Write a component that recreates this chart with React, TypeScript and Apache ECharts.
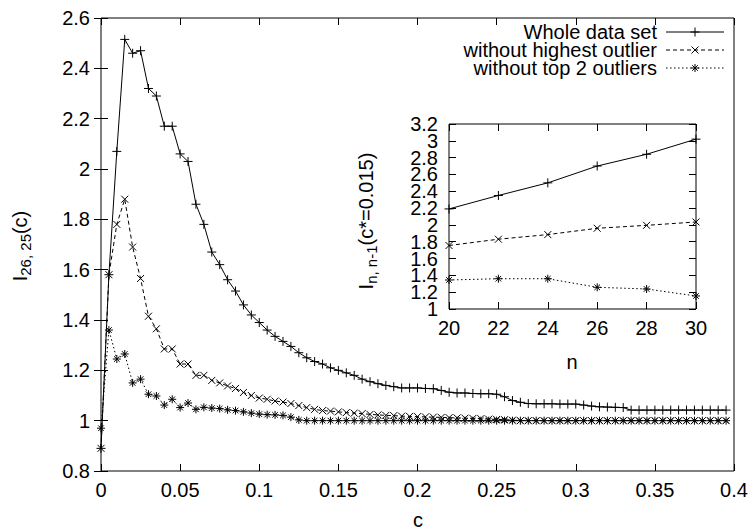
import React, { useEffect, useRef } from 'react';
import * as echarts from 'echarts';

const FONT = 'Liberation Sans, Arial, Helvetica, sans-serif';
const FS = 20;

// c values (main x axis)
const C = [
  0, 0.005, 0.01, 0.015, 0.02, 0.025, 0.03, 0.035, 0.04, 0.045,
  0.05, 0.055, 0.06, 0.065, 0.07, 0.075, 0.08, 0.085, 0.09, 0.095,
  0.1, 0.105, 0.11, 0.115, 0.12, 0.125, 0.13, 0.135, 0.14, 0.145,
  0.15, 0.155, 0.16, 0.165, 0.17, 0.175, 0.18, 0.185, 0.19, 0.195,
  0.2, 0.205, 0.21, 0.215, 0.22, 0.225, 0.23, 0.235, 0.24, 0.245,
  0.25, 0.255, 0.26, 0.265, 0.27, 0.275, 0.28, 0.285, 0.29, 0.295,
  0.3, 0.305, 0.31, 0.315, 0.32, 0.325, 0.33, 0.335, 0.34, 0.345,
  0.35, 0.355, 0.36, 0.365, 0.37, 0.375, 0.38, 0.385, 0.39, 0.395,
];

const WHOLE = [
  0.89, 1.58, 2.07, 2.515, 2.46, 2.47, 2.32, 2.29, 2.17, 2.17,
  2.06, 2.03, 1.86, 1.78, 1.67, 1.62, 1.56, 1.515, 1.46, 1.42,
  1.39, 1.36, 1.335, 1.315, 1.295, 1.27, 1.25, 1.235, 1.225, 1.21,
  1.2, 1.19, 1.18, 1.165, 1.155, 1.147, 1.14, 1.135, 1.13, 1.13,
  1.13, 1.128, 1.127, 1.12, 1.113, 1.11, 1.11, 1.108, 1.107, 1.107,
  1.105, 1.095, 1.08, 1.073, 1.068, 1.067, 1.067, 1.067, 1.066, 1.066,
  1.066, 1.062, 1.058, 1.055, 1.054, 1.053, 1.052, 1.042, 1.042, 1.042,
  1.042, 1.042, 1.042, 1.042, 1.042, 1.042, 1.042, 1.042, 1.042, 1.042,
];

const NO_HIGHEST = [
  0.89, 1.58, 1.78, 1.88, 1.69, 1.565, 1.415, 1.365, 1.285, 1.285,
  1.225, 1.225, 1.18, 1.18, 1.16, 1.15, 1.138, 1.128, 1.112, 1.1,
  1.09, 1.085, 1.078, 1.074, 1.068, 1.06, 1.052, 1.045, 1.04, 1.038,
  1.035, 1.032, 1.03, 1.028, 1.025, 1.023, 1.021, 1.02, 1.018, 1.017,
  1.016, 1.015, 1.014, 1.013, 1.012, 1.011, 1.01, 1.009, 1.008, 1.006,
  1.005, 1.004, 1.002, 1.0, 1.0, 1.0, 1.0, 1.0, 1.0, 1.0,
  1.0, 1.0, 1.0, 1.0, 1.0, 1.0, 1.0, 1.0, 1.0, 1.0,
  1.0, 1.0, 1.0, 1.0, 1.0, 1.0, 1.0, 1.0, 1.0, 1.0,
];

const NO_TOP2 = [
  0.97, 1.36, 1.245, 1.265, 1.15, 1.165, 1.105, 1.098, 1.062, 1.085,
  1.052, 1.07, 1.045, 1.053, 1.05, 1.048, 1.043, 1.04, 1.035, 1.03,
  1.026, 1.024, 1.023, 1.021, 1.014, 1.003, 1.0, 1.0, 1.0, 1.0,
  1.0, 1.0, 1.0, 1.0, 1.0, 1.0, 1.0, 1.0, 1.0, 1.0,
  1.0, 1.0, 1.0, 1.0, 1.0, 1.0, 1.0, 1.0, 1.0, 1.0,
  1.0, 1.0, 1.0, 1.0, 1.0, 1.0, 1.0, 1.0, 1.0, 1.0,
  1.0, 1.0, 1.0, 1.0, 1.0, 1.0, 1.0, 1.0, 1.0, 1.0,
  1.0, 1.0, 1.0, 1.0, 1.0, 1.0, 1.0, 1.0, 1.0, 1.0,
];

// inset
const N = [20, 22, 24, 26, 28, 30];
const INSET_WHOLE = [2.19, 2.35, 2.5, 2.7, 2.84, 3.02];
const INSET_NO_HIGHEST = [1.755, 1.83, 1.885, 1.96, 1.995, 2.035];
const INSET_NO_TOP2 = [1.345, 1.36, 1.36, 1.258, 1.238, 1.155];

// inset y tick labels, split into two alternating groups so none gets hidden
const INSET_Y_LABELS_A = ['1', '1.4', '1.8', '2.2', '2.6', '3'];
const INSET_Y_LABELS_B = ['1.2', '1.6', '2', '2.4', '2.8', '3.2'];

const NAMES = ['Whole data set', 'without highest outlier', 'without top 2 outliers'];

const PLUS = 'path://M0,5L10,5M5,0L5,10';
const CROSS = 'path://M0,0L10,10M0,10L10,0';
const STAR = 'path://M0,5L10,5M5,0L5,10M1.5,1.5L8.5,8.5M1.5,8.5L8.5,1.5';

const zip = (xs: number[], ys: number[]) => xs.map((x, i) => [x, ys[i]]);

const STYLES = [
  { symbol: PLUS, size: 9, dash: 'solid' as any, gdash: null as any, kind: 'plus' },
  { symbol: CROSS, size: 7, dash: [4, 3] as any, gdash: [4, 3] as any, kind: 'cross' },
  { symbol: STAR, size: 8, dash: [1.5, 2.5] as any, gdash: [1.5, 2.5] as any, kind: 'star' },
];

function mkSeries(name: string, data: number[][], idx: number, xi: number, yi: number) {
  const st = STYLES[idx];
  return {
    name,
    type: 'line',
    xAxisIndex: xi,
    yAxisIndex: yi,
    data,
    symbol: st.symbol,
    symbolSize: st.size,
    showSymbol: true,
    showAllSymbol: true,
    lineStyle: { color: '#000', width: 1, type: st.dash },
    itemStyle: { color: '#000', borderColor: '#000', borderWidth: 1 },
    emphasis: { disabled: true },
    silent: true,
    z: 3,
  };
}

const TICK = { show: true, inside: true, length: 7, lineStyle: { color: '#000', width: 1 } };

function xAx(grid: number, min: number, max: number, interval: number, top: boolean) {
  return {
    type: 'value',
    gridIndex: grid,
    position: top ? 'top' : 'bottom',
    min,
    max,
    interval,
    axisLine: { show: false },
    axisTick: TICK,
    axisLabel: { show: !top, color: '#000', fontSize: FS, fontFamily: FONT, margin: 9, showMinLabel: true, showMaxLabel: true, hideOverlap: false },
    splitLine: { show: false },
  };
}

function yAx(grid: number, min: number, max: number, interval: number, right: boolean, labels?: string[]) {
  return {
    type: 'value',
    gridIndex: grid,
    position: right ? 'right' : 'left',
    offset: 0,
    min,
    max,
    interval,
    axisLine: { show: false },
    axisTick: { ...TICK, show: !labels || labels === INSET_Y_LABELS_A || right },
    axisLabel: {
      show: !right,
      color: '#000',
      fontSize: FS,
      fontFamily: FONT,
      margin: 11,
      showMinLabel: true,
      showMaxLabel: true,
      hideOverlap: false,
      formatter: labels
        ? (v: number) => {
            const s = String(Math.round(v * 10) / 10);
            return labels.indexOf(s) >= 0 ? s : '';
          }
        : undefined,
    },
    splitLine: { show: false },
  };
}

// legend drawn as graphic elements
const LEG_TEXT_RIGHT = 657;
const LEG_LINE_X1 = 666;
const LEG_LINE_X2 = 724;
const LEG_ROWS = [32, 50, 68];

function markerLines(kind: string, cx: number, cy: number) {
  const segs: number[][] = [];
  if (kind === 'plus' || kind === 'star') {
    const r = kind === 'plus' ? 4.5 : 4;
    segs.push([cx - r, cy, cx + r, cy], [cx, cy - r, cx, cy + r]);
  }
  if (kind === 'cross' || kind === 'star') {
    const r = kind === 'cross' ? 3.5 : 2.8;
    segs.push([cx - r, cy - r, cx + r, cy + r], [cx - r, cy + r, cx + r, cy - r]);
  }
  return segs.map((s) => ({
    type: 'line',
    silent: true,
    shape: { x1: s[0], y1: s[1], x2: s[2], y2: s[3] },
    style: { stroke: '#000', lineWidth: 1 },
  }));
}

function legendGraphics() {
  const out: any[] = [];
  NAMES.forEach((name, i) => {
    const y = LEG_ROWS[i];
    const st = STYLES[i];
    out.push({
      type: 'text',
      silent: true,
      x: LEG_TEXT_RIGHT,
      y,
      style: { text: name, fontSize: FS, fontFamily: FONT, fill: '#000', align: 'right', verticalAlign: 'middle' },
    });
    out.push({
      type: 'line',
      silent: true,
      shape: { x1: LEG_LINE_X1, y1: y, x2: LEG_LINE_X2, y2: y },
      style: { stroke: '#000', lineWidth: 1, lineDash: st.gdash },
    });
    out.push(...markerLines(st.kind, (LEG_LINE_X1 + LEG_LINE_X2) / 2, y));
  });
  return out;
}

export default function App() {
  const ref = useRef<HTMLDivElement>(null);
  useEffect(() => {
    if (!ref.current) return;
    const chart = echarts.init(ref.current, undefined, { renderer: 'svg' });
    const rich = {
      m: { fontSize: FS, lineHeight: 26, fontFamily: FONT, fill: '#000' },
      s: { fontSize: 15, lineHeight: 15, verticalAlign: 'bottom', fontFamily: FONT, fill: '#000' },
    };
    const option: any = {
      animation: false,
      backgroundColor: '#fff',
      grid: [
        { left: 101, top: 18, width: 633, height: 453, show: true, borderColor: '#000', borderWidth: 1, backgroundColor: 'transparent' },
        { left: 449, top: 124, width: 247, height: 185, show: true, borderColor: '#000', borderWidth: 1, backgroundColor: '#fff' },
      ],
      xAxis: [
        xAx(0, 0, 0.4, 0.05, false),
        xAx(0, 0, 0.4, 0.05, true),
        xAx(1, 20, 30, 2, false),
        xAx(1, 20, 30, 2, true),
      ],
      yAxis: [
        yAx(0, 0.8, 2.6, 0.2, false),
        yAx(0, 0.8, 2.6, 0.2, true),
        yAx(1, 1, 3.2, 0.2, false, INSET_Y_LABELS_A),
        yAx(1, 1, 3.2, 0.2, true),
        yAx(1, 1, 3.2, 0.2, false, INSET_Y_LABELS_B),
      ],
      series: [
        mkSeries(NAMES[0], zip(C, WHOLE), 0, 0, 0),
        mkSeries(NAMES[1], zip(C, NO_HIGHEST), 1, 0, 0),
        mkSeries(NAMES[2], zip(C, NO_TOP2), 2, 0, 0),
        mkSeries('inset ' + NAMES[0], zip(N, INSET_WHOLE), 0, 2, 2),
        mkSeries('inset ' + NAMES[1], zip(N, INSET_NO_HIGHEST), 1, 2, 2),
        mkSeries('inset ' + NAMES[2], zip(N, INSET_NO_TOP2), 2, 2, 2),
      ],
      graphic: [
        {
          type: 'text',
          silent: true,
          x: 20,
          y: 246,
          rotation: Math.PI / 2,
          style: { text: '{m|I}{s|26, 25}{m|(c)}', rich, align: 'center', verticalAlign: 'middle', fill: '#000' },
        },
        {
          type: 'text',
          silent: true,
          x: 418,
          y: 520,
          style: { text: 'c', fontSize: FS, fontFamily: FONT, fill: '#000', align: 'center', verticalAlign: 'middle' },
        },
        {
          type: 'text',
          silent: true,
          x: 366,
          y: 221,
          rotation: Math.PI / 2,
          style: { text: '{m|I}{s|n, n-1}{m|(c*=0.015)}', rich, align: 'center', verticalAlign: 'middle', fill: '#000' },
        },
        {
          type: 'text',
          silent: true,
          x: 572,
          y: 362,
          style: { text: 'n', fontSize: FS, fontFamily: FONT, fill: '#000', align: 'center', verticalAlign: 'middle' },
        },
        ...legendGraphics(),
      ],
    };
    chart.setOption(option);
    return () => chart.dispose();
  }, []);
  return (
    <div
      ref={ref}
      style={{ position: 'absolute', left: 0, top: 0, width: 751, height: 531, background: '#fff' }}
    />
  );
}
